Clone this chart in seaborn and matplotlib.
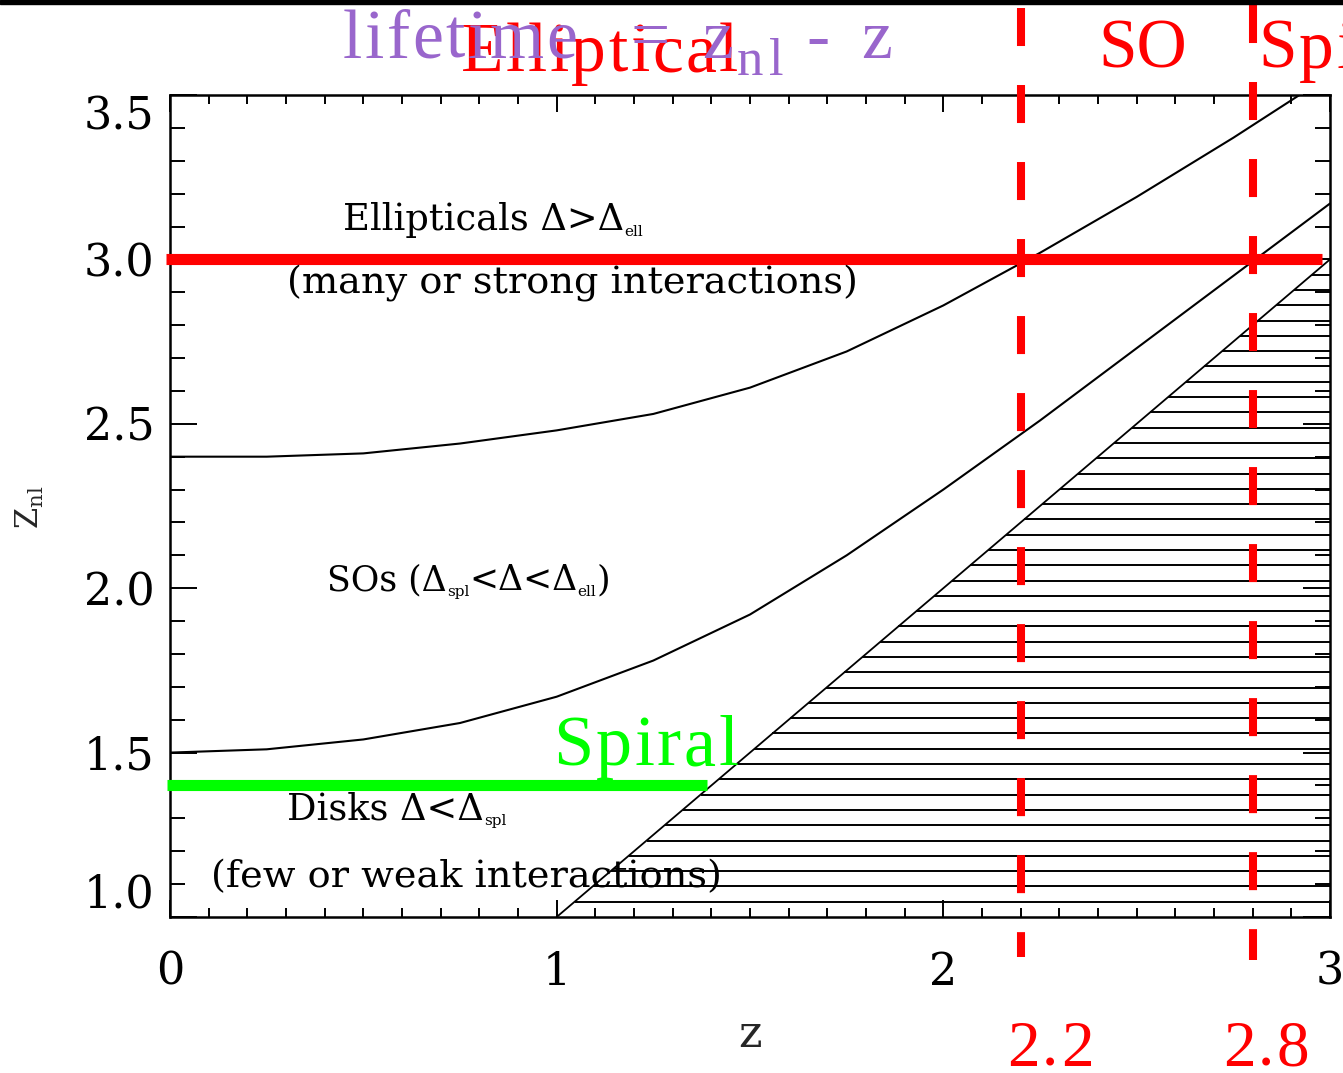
import numpy as np
import pandas as pd
import matplotlib
matplotlib.use("Agg")
import matplotlib.pyplot as plt
import seaborn as sns
from matplotlib.ticker import MultipleLocator, FixedLocator
from matplotlib.patches import Rectangle
from matplotlib.font_manager import FontProperties

# ---------------- data ----------------
z_grid = [0.0, 0.25, 0.5, 0.75, 1.0, 1.25, 1.5, 1.75, 2.0, 2.25, 2.5, 2.75, 3.0]
z_nl_elliptical = [2.40, 2.40, 2.41, 2.44, 2.48, 2.53, 2.61, 2.72, 2.86, 3.02, 3.19, 3.37, 3.56]
z_nl_s0 = [1.50, 1.51, 1.54, 1.59, 1.67, 1.78, 1.92, 2.10, 2.30, 2.51, 2.73, 2.95, 3.17]
diag_z = [1.0, 3.0]          # z_nl = z boundary (forbidden region below)
diag_znl = [1.0, 3.0]
ell_level = 3.0              # red horizontal line
ell_z_range = [-0.01, 2.98]
spiral_level = 1.4           # green horizontal line
spiral_z_range = [-0.008, 1.39]
cut_z = [2.2, 2.8]           # red dashed verticals
cut_labels = ["2.2", "2.8"]
x_ticks = [0, 1, 2, 3]
x_ticklabels = ["0", "1", "2", "3"]
y_ticks = [1.0, 1.5, 2.0, 2.5, 3.0, 3.5]
y_ticklabels = ["1.0", "1.5", "2.0", "2.5", "3.0", "3.5"]
hatch_step = 2.0 / 43

W, H = 1343, 1073

sns.set_theme(style="ticks")
plt.rcParams["font.family"] = ["DejaVu Serif"]
plt.rcParams["mathtext.fontset"] = "dejavuserif"

fig = plt.figure(figsize=(W / 100, H / 100), dpi=100, facecolor="white")
ax = fig.add_axes([170 / W, (H - 917) / H, 1160 / W, 822 / H])
ax.set_facecolor("white")
renderer = fig.canvas.get_renderer()


def fx(px):
    return px / W


def fy(py):
    return 1 - py / H


def text_w(s, fs, family):
    fp = FontProperties(family=family, size=fs)
    w1, _, _ = renderer.get_text_width_height_descent("x" + s + "x", fp, ismath=False)
    w0, _, _ = renderer.get_text_width_height_descent("xx", fp, ismath=False)
    return w1 - w0


def runs_text(x, y, runs, color, family, zorder=3, spacing=0.0):
    """Draw text runs (string, fontsize, baseline shift px) left to right, pixel coords."""
    for s, fs, dy in runs:
        if spacing:
            for ch in s:
                fig.text(fx(x), fy(y + dy), ch, fontsize=fs, family=family, color=color,
                         ha="left", va="baseline", zorder=zorder)
                x += text_w(ch, fs, family) + spacing
        else:
            fig.text(fx(x), fy(y + dy), s, fontsize=fs, family=family, color=color,
                     ha="left", va="baseline", zorder=zorder)
            x += text_w(s, fs, family)
    return x


# curves
df = pd.DataFrame({
    "z": z_grid * 2,
    "z_nl": z_nl_elliptical + z_nl_s0,
    "curve": ["ell"] * len(z_grid) + ["s0"] * len(z_grid),
})
sns.lineplot(data=df, x="z", y="z_nl", units="curve", estimator=None,
             color="black", lw=1.5, ax=ax, legend=False)
ax.plot(diag_z, diag_znl, color="black", lw=1.3)

# hatched region (horizontal lines from the diagonal to the right edge)
levels = np.arange(1.0 + hatch_step, 3.0, hatch_step)
ax.hlines(levels, levels, 3.0, color="black", lw=1.4)

ax.set_xlim(0, 3)
ax.set_ylim(1.0, 3.5)
ax.set_xlabel("")
ax.set_ylabel("")

# ticks
ax.xaxis.set_major_locator(FixedLocator(x_ticks))
ax.set_xticklabels(x_ticklabels)
ax.xaxis.set_minor_locator(MultipleLocator(0.1))
ax.yaxis.set_major_locator(FixedLocator(y_ticks))
ax.set_yticklabels(y_ticklabels)
ax.yaxis.set_minor_locator(MultipleLocator(0.1))
ax.tick_params(axis="both", which="both", direction="in", top=True, right=True,
               color="black", width=1.4, labelsize=32, labelcolor="black")
ax.tick_params(axis="x", which="major", length=17 * 0.72, pad=24)
ax.tick_params(axis="x", which="minor", length=9 * 0.72)
ax.tick_params(axis="y", which="major", length=27 * 0.72, pad=11)
ax.tick_params(axis="y", which="minor", length=15 * 0.72)
yt = ax.yaxis.get_major_ticks()
yt[0].label1.set_va("bottom")
yt[-1].label1.set_va("top")
for s in ax.spines.values():
    s.set_linewidth(1.8)
    s.set_color("black")
    s.set_visible(True)

# axis labels
fig.text(fx(750), fy(1047), "z", fontsize=32, ha="center", va="baseline")
fig.text(fx(30), fy(507), r"Z$_{\mathrm{nl}}$", fontsize=22, rotation=90,
         ha="center", va="center")

# region annotations (black)
dv = "DejaVu Serif"
afs, sfs, sdy = 27.5, 11, 6
runs_text(343, 230, [("Ellipticals Δ>Δ", 26.5, 0), ("ell", sfs, sdy)], "black", dv)
runs_text(287, 293, [("(many or strong interactions)", afs, 0)], "black", dv)
runs_text(327, 590, [("SOs (Δ", 25, 0), ("spl", sfs, sdy), ("<Δ<Δ", 25, 0),
                     ("ell", sfs, sdy), (")", 25, 0)], "black", dv)
runs_text(287, 819, [("Disks Δ<Δ", 26.5, 0), ("spl", sfs, sdy)], "black", dv)
runs_text(211, 887, [("(few or weak interactions)", afs, 0)], "black", dv)

# overlay lines
ax.plot(ell_z_range, [ell_level, ell_level], color="#ff0000", lw=8,
        solid_capstyle="butt", clip_on=False, zorder=5)
ax.plot(spiral_z_range, [spiral_level, spiral_level], color="#00ff00", lw=8,
        solid_capstyle="butt", clip_on=False, zorder=5)
tops = [(917 - 8) / 822, (917 - 5) / 822]
bots = [(917 - 957) / 822, (917 - 960) / 822]
for zc, yt_, yb_ in zip(cut_z, tops, bots):
    ax.plot([zc, zc], [yt_, yb_], transform=ax.get_xaxis_transform(),
            color="#ff0000", lw=5.8, dashes=(4.72, 4.84), clip_on=False, zorder=6)

# overlay texts
serif = ["Liberation Serif", "DejaVu Serif"]
runs_text(553, 765, [("Spiral", 52, 0)], "#00ff00", serif, zorder=7, spacing=2.5)
for lbl, xl in zip(cut_labels, [1007, 1223]):
    runs_text(xl, 1066, [(lbl, 47, 0)], "#ff0000", serif, spacing=2.5)
runs_text(461, 71, [("Elliptical", 50, 0)], "#ff0000", serif, zorder=3, spacing=2.5)
runs_text(1098, 68, [("SO", 50, 0)], "#ff0000", serif, zorder=3)
runs_text(1258, 68, [("Spiral", 50, 0)], "#ff0000", serif, zorder=3, spacing=2.5)
purple = "#9966cc"
runs_text(343, 58, [("lifetime", 50, 0)], purple, serif, zorder=4, spacing=2.5)
runs_text(630, 58, [("=", 50, 0)], purple, serif, zorder=4)
runs_text(702, 58, [("z", 50, 0)], purple, serif, zorder=4)
runs_text(737, 75, [("nl", 38, 0)], purple, serif, zorder=4, spacing=6)
runs_text(806, 58, [("-", 50, 0)], purple, serif, zorder=4)
runs_text(861, 58, [("z", 50, 0)], purple, serif, zorder=4)

# black bar at top edge
fig.patches.append(Rectangle((0, 1 - 4 / H), 1, 4 / H, transform=fig.transFigure,
                             color="black", zorder=10))

fig.savefig("out.png", dpi=100, facecolor="white")
